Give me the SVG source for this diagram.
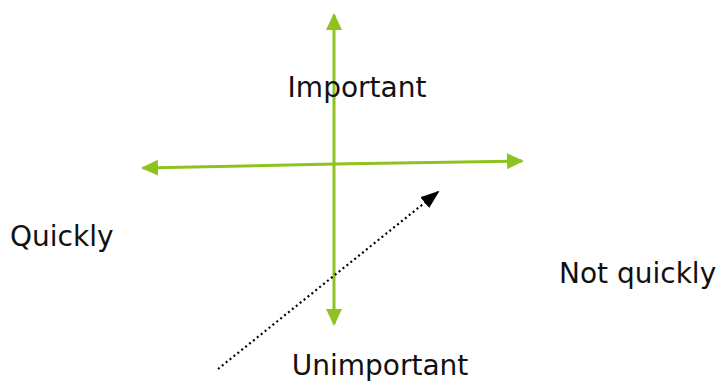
<svg xmlns="http://www.w3.org/2000/svg" width="724" height="381" viewBox="0 0 724 381">
<style>
.ax{stroke:#8dc21f;stroke-width:3;fill:none}
.lbl{font-family:"DejaVu Sans",sans-serif;font-size:28px;fill:#111}
</style>
<defs>
<marker id="g" markerWidth="17" markerHeight="16" refX="15" refY="8" orient="auto" markerUnits="userSpaceOnUse">
<path d="M0,0 L17,8 L0,16 Z" fill="#8dc21f"/>
</marker>
<marker id="b" markerWidth="19" markerHeight="14" refX="17" refY="7" orient="auto" markerUnits="userSpaceOnUse">
<path d="M0,0 L19,7 L0,14 Z" fill="#000"/>
</marker>
</defs>
<rect width="724" height="381" fill="#fff"/>
<g id="connectors">
<line class="ax" x1="334" y1="164" x2="334" y2="15" marker-end="url(#g)"/>
<line class="ax" x1="334" y1="164" x2="334" y2="324" marker-end="url(#g)"/>
<line class="ax" x1="334" y1="164" x2="143" y2="168" marker-end="url(#g)"/>
<line class="ax" x1="334" y1="164" x2="522" y2="161" marker-end="url(#g)"/>
<line x1="218" y1="369" x2="438" y2="192" stroke="#000" stroke-width="2.2" stroke-dasharray="2 3" marker-end="url(#b)"/>
</g>
<g id="important"><text class="lbl" x="357" y="97" text-anchor="middle">Important</text></g>
<g id="quickly"><text class="lbl" x="10" y="246">Quickly</text></g>
<g id="notquickly"><text class="lbl" x="559" y="283">Not quickly</text></g>
<g id="unimportant"><text class="lbl" x="380" y="375" text-anchor="middle">Unimportant</text></g>
</svg>
